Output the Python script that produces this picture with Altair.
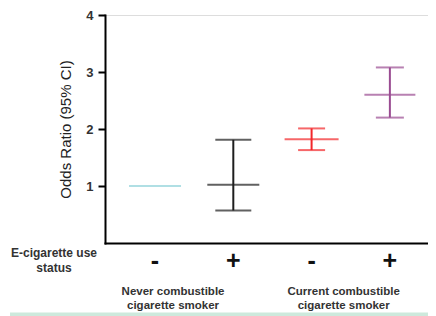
import altair as alt
import pandas as pd

# ---- data ----
positions = [0, 1, 2, 3]
groups = ["Never", "Never", "Current", "Current"]
status = ["-", "+", "-", "+"]
or_mean = [1.00, 1.02, 1.82, 2.60]
ci_low = [None, 0.57, 1.63, 2.20]
ci_high = [None, 1.81, 2.01, 3.08]
colors = ["#8fd2d8", "#1e1e1e", "#f2262a", "#9a4c92"]
mean_width = [52, 52, 54, 51]
cap_width = [0, 36, 27, 28]

group_pos = [0.23, 2.41]
group_labels = [["Never combustible", "cigarette smoker"],
                ["Current combustible", "cigarette smoker"]]

df = pd.DataFrame({
    "pos": positions, "group": groups, "status": status,
    "mean": or_mean, "lo": ci_low, "hi": ci_high,
    "color": colors, "mw": mean_width, "cw": cap_width,
})
ci = df.dropna(subset=["lo"])
caps = pd.concat([
    ci[["pos", "color", "cw"]].assign(v=ci["lo"]),
    ci[["pos", "color", "cw"]].assign(v=ci["hi"]),
])
gdf = pd.DataFrame({"pos": group_pos, "label": group_labels})

W, H = 323, 228
xscale = alt.Scale(domain=[-0.639, 3.487], nice=False, zero=False)
yscale = alt.Scale(domain=[0, 4], nice=False)

base = alt.Chart(df)

x_enc = alt.X("pos:Q", scale=xscale,
              axis=alt.Axis(labels=False, ticks=False, grid=False, title=None,
                            domainColor="black", domainWidth=2, domainCap="square"))
y_axis = alt.Axis(values=[1, 2, 3, 4], format="d", grid=False, title="Odds Ratio (95% CI)",
                  domainColor="black", domainWidth=2, domainCap="square",
                  tickColor="black", tickWidth=2, tickSize=7,
                  labelFont="Liberation Sans", labelFontWeight="bold",
                  labelFontSize=13, labelColor="#333", labelPadding=5,
                  titleFont="Liberation Sans", titleFontWeight="normal",
                  titleFontSize=15, titleColor="#222", titlePadding=12)

means = base.mark_tick(orient="horizontal", thickness=2).encode(
    x=x_enc,
    y=alt.Y("mean:Q", scale=yscale, axis=y_axis),
    size=alt.Size("mw:Q", scale=None, legend=None),
    color=alt.Color("color:N", scale=None),
)

rules = alt.Chart(ci).mark_rule(strokeWidth=2).encode(
    x=alt.X("pos:Q", scale=xscale),
    y=alt.Y("lo:Q", scale=yscale),
    y2="hi:Q",
    color=alt.Color("color:N", scale=None),
)

cap_marks = alt.Chart(caps).mark_tick(orient="horizontal", thickness=2).encode(
    x=alt.X("pos:Q", scale=xscale),
    y=alt.Y("v:Q", scale=yscale),
    size=alt.Size("cw:Q", scale=None, legend=None),
    color=alt.Color("color:N", scale=None),
)

signs = base.mark_text(font="Liberation Sans", fontWeight="bold", fontSize=25,
                       color="#111", baseline="middle").encode(
    x=alt.X("pos:Q", scale=xscale),
    y=alt.value(246),
    text="status:N",
)

glabels = alt.Chart(gdf).mark_text(font="Liberation Sans", fontWeight="bold",
                                   fontSize=11.5, color="#333", lineHeight=14,
                                   baseline="middle").encode(
    x=alt.X("pos:Q", scale=xscale),
    y=alt.value(277),
    text="label",
)

left_label = alt.Chart(pd.DataFrame({"t": [["E-cigarette use", "status"]]})).mark_text(
    font="Liberation Sans", fontWeight="bold", fontSize=12, color="#333",
    lineHeight=15, baseline="middle").encode(
    x=alt.value(-51), y=alt.value(238), text="t")

green = alt.Chart(pd.DataFrame({"a": [0]})).mark_rule(color="#cde9dc", strokeWidth=5).encode(
    x=alt.value(-95), x2=alt.value(W + 10), y=alt.value(H + 72))

chart = alt.layer(green, rules, cap_marks, means, signs, glabels, left_label).properties(
    width=W, height=H,
    padding={"left": 97, "top": 7, "right": 0, "bottom": 75},
    autosize=alt.AutoSizeParams(type="none"),
).configure_view(stroke=None).configure(background="white")

chart.save("out.html", embed_options={"renderer": "svg", "actions": False})
